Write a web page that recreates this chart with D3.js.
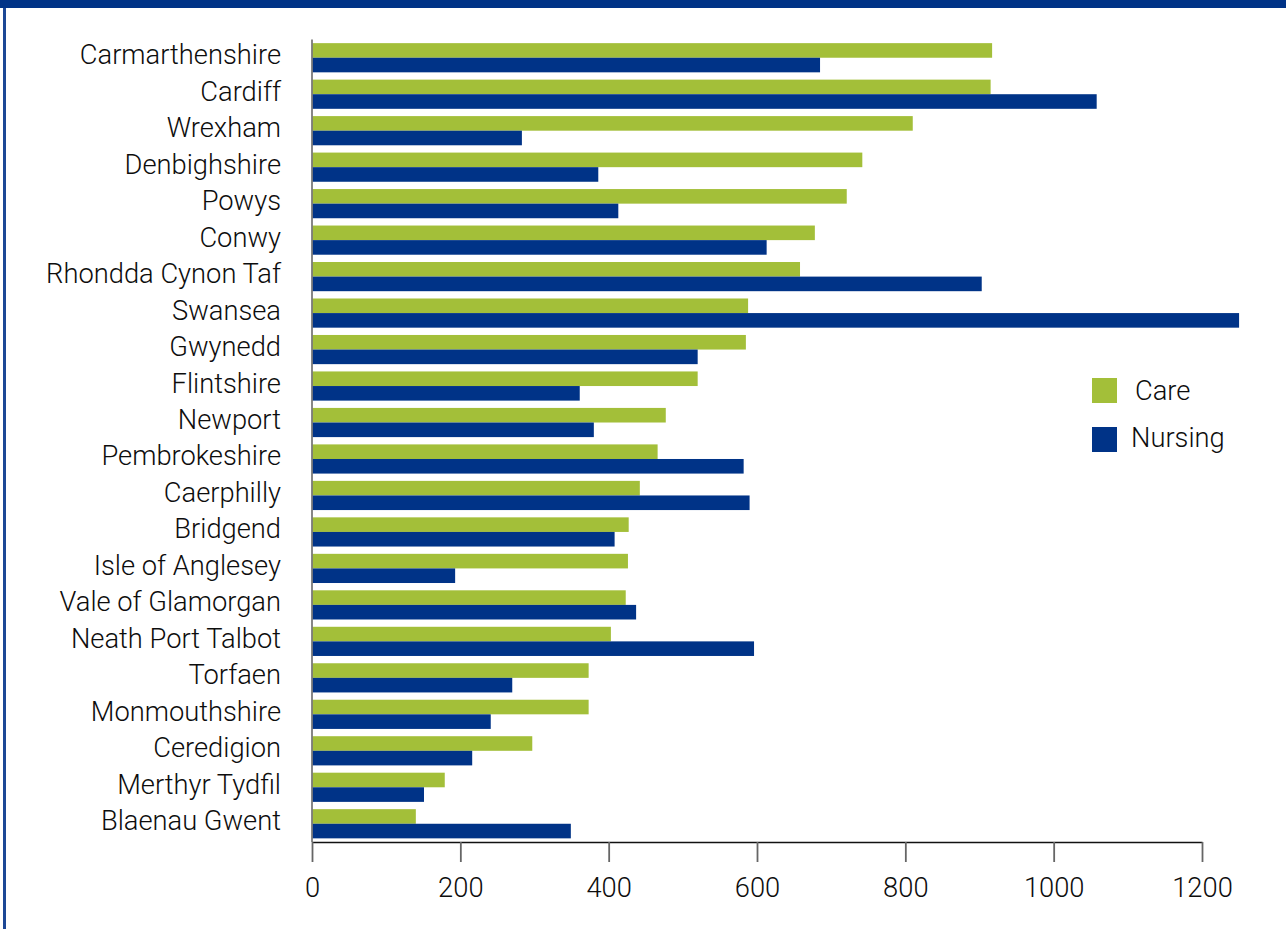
<!DOCTYPE html>
<html>
<head>
<meta charset="utf-8">
<script src="https://cdn.jsdelivr.net/npm/d3@7"></script>
<style>
  html, body { margin: 0; padding: 0; background: #ffffff; }
  svg { display: block; }
  text { font-family: Roboto, "Liberation Sans", sans-serif; font-weight: 300; fill: #0d0d0d; }
</style>
</head>
<body>
<svg id="chart" width="1286" height="929"></svg>
<script>
// Residential places per local authority, split by home type
const authorities = [
  "Carmarthenshire", "Cardiff", "Wrexham", "Denbighshire", "Powys", "Conwy",
  "Rhondda Cynon Taf", "Swansea", "Gwynedd", "Flintshire", "Newport",
  "Pembrokeshire", "Caerphilly", "Bridgend", "Isle of Anglesey",
  "Vale of Glamorgan", "Neath Port Talbot", "Torfaen", "Monmouthshire",
  "Ceredigion", "Merthyr Tydfil", "Blaenau Gwent"
];
const careValues = [
  917, 915, 810, 742, 721, 678, 658, 588, 585, 520, 477,
  466, 442, 427, 426, 423, 403, 373, 373, 297, 179, 140
];
const nursingValues = [
  685, 1058, 283, 386, 413, 613, 903, 1250, 520, 361, 380,
  582, 590, 408, 193, 437, 596, 270, 241, 216, 151, 349
];
const seriesNames = ["Care", "Nursing"];
const seriesColors = ["#a3bf39", "#003387"];
const xTicks = [0, 200, 400, 600, 800, 1000, 1200];

const svg = d3.select("#chart");
const W = 1286, H = 929;
const FONT_SIZE = 27.3;

// Frame: heavy rule along the top, thin rule down the left side
svg.append("rect").attr("x", 0).attr("y", 0).attr("width", W).attr("height", 8).attr("fill", "#003387");
svg.append("rect").attr("x", 3).attr("y", 8).attr("width", 3).attr("height", H - 8).attr("fill", "#1d4896");

const plot = { left: 312, right: 1202, top: 39.5, bottom: 842 };

const x = d3.scaleLinear().domain([0, 1200]).range([plot.left, plot.right]);
const y = d3.scaleBand().domain(authorities).range([plot.top, plot.bottom])
  .paddingInner(0.2).paddingOuter(0.1);
const sub = d3.scaleBand().domain(seriesNames).range([0, y.bandwidth()]);

const rows = authorities.map((name, i) => ({
  name,
  values: [careValues[i], nursingValues[i]]
}));

// Bars
const g = svg.append("g");
const row = g.selectAll("g.row").data(rows).join("g")
  .attr("class", "row")
  .attr("transform", d => `translate(0,${y(d.name)})`);

row.selectAll("rect").data(d => d.values.map((v, k) => ({ v, k }))).join("rect")
  .attr("x", x(0))
  .attr("y", d => sub(seriesNames[d.k]))
  .attr("width", d => x(d.v) - x(0))
  .attr("height", sub.bandwidth())
  .attr("fill", d => seriesColors[d.k]);

// Category labels
svg.append("g").selectAll("text").data(authorities).join("text")
  .attr("x", 281)
  .attr("y", d => y(d) + y.bandwidth() / 2 + 6.5)
  .attr("text-anchor", "end")
  .attr("font-size", FONT_SIZE)
  .text(d => d);

// Vertical baseline
svg.append("line")
  .attr("x1", x(0)).attr("x2", x(0))
  .attr("y1", plot.top).attr("y2", plot.bottom)
  .attr("stroke", "#7a7a7a").attr("stroke-width", 1.8);

// Value axis
const axis = d3.axisBottom(x).tickValues(xTicks).tickSize(20).tickSizeOuter(0).tickFormat(d3.format("d"));
const ax = svg.append("g").attr("transform", `translate(0,${plot.bottom})`).call(axis);
ax.select(".domain").attr("stroke", "#111").attr("stroke-width", 1.4);
ax.selectAll(".tick line").attr("stroke", "#666").attr("stroke-width", 1.8);
ax.selectAll(".tick text")
  .attr("y", 55).attr("dy", 0)
  .attr("font-size", FONT_SIZE)
  .attr("font-family", "Roboto, 'Liberation Sans', sans-serif")
  .attr("font-weight", 300)
  .attr("fill", "#0d0d0d");

// Legend
const legendRows = [
  { name: "Care", color: seriesColors[0], sy: 378, tx: 1135, ty: 400 },
  { name: "Nursing", color: seriesColors[1], sy: 427, tx: 1131, ty: 447 }
];
const lg = svg.append("g");
lg.selectAll("rect").data(legendRows).join("rect")
  .attr("x", 1092).attr("y", d => d.sy).attr("width", 25).attr("height", 25)
  .attr("fill", d => d.color);
lg.selectAll("text").data(legendRows).join("text")
  .attr("x", d => d.tx).attr("y", d => d.ty)
  .attr("font-size", FONT_SIZE)
  .text(d => d.name);
</script>
</body>
</html>
